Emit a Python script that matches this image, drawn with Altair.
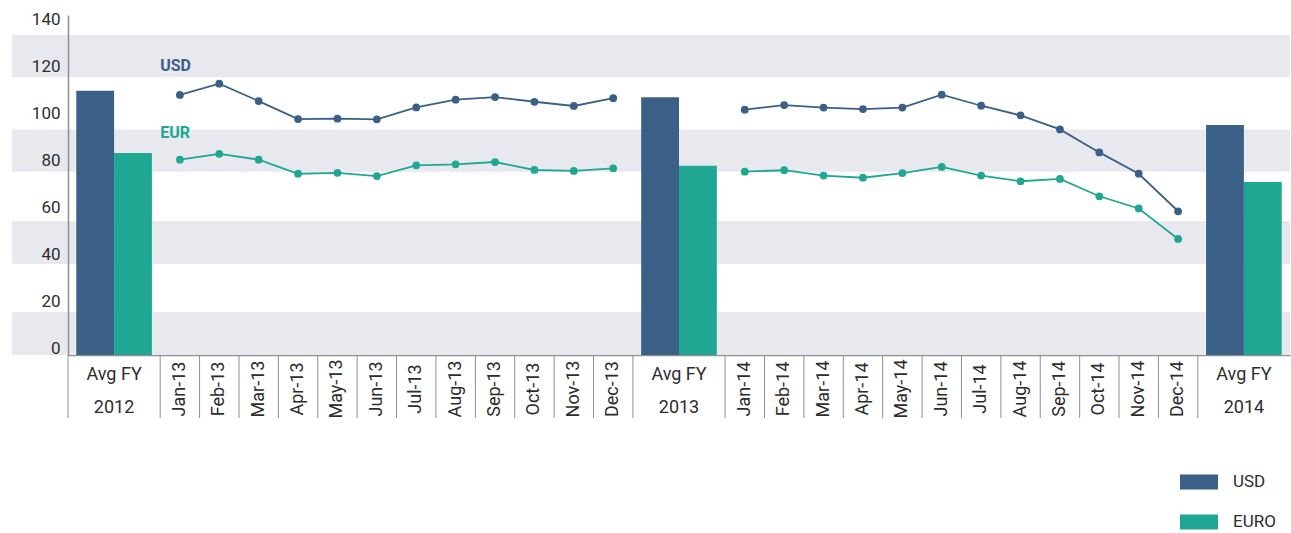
import altair as alt
import pandas as pd

# ---------------- data ----------------
months_2013 = ["Jan-13", "Feb-13", "Mar-13", "Apr-13", "May-13", "Jun-13",
               "Jul-13", "Aug-13", "Sep-13", "Oct-13", "Nov-13", "Dec-13"]
months_2014 = ["Jan-14", "Feb-14", "Mar-14", "Apr-14", "May-14", "Jun-14",
               "Jul-14", "Aug-14", "Sep-14", "Oct-14", "Nov-14", "Dec-14"]
avg_years = ["2012", "2013", "2014"]
avg_usd = [112.7, 109.9, 98.1]
avg_eur = [86.1, 80.7, 73.8]
usd_2013 = [110.9, 115.7, 108.3, 100.6, 100.8, 100.5, 105.6, 108.9, 110.0, 108.0, 106.2, 109.5]
eur_2013 = [83.3, 85.8, 83.3, 77.3, 77.7, 76.3, 80.9, 81.3, 82.3, 78.9, 78.5, 79.6]
usd_2014 = [104.6, 106.6, 105.5, 104.9, 105.5, 111.0, 106.3, 102.2, 96.2, 86.4, 77.3, 61.3]
eur_2014 = [78.2, 78.8, 76.5, 75.6, 77.6, 80.2, 76.5, 74.1, 75.1, 67.7, 62.5, 49.5]
y_ticks = [0, 20, 40, 60, 80, 100, 120, 140]
band_lo = [0, 38.8, 78.2, 118.4]
band_hi = [18.3, 57.1, 96.2, 136.5]
currencies = ["USD", "EURO"]

# ---------------- style ----------------
FONT = "Roboto"
C_USD = "#3a6087"
C_EUR = "#20a794"
C_BAND = "#e8e9ee"
C_AXIS = "#8f8f8f"
C_TEXT = "#2d2d2d"
AVG_W = 2.34      # width of an "Avg FY" column, in month-column units
BAR_PAD = 0.21
BAR_W = 0.96

W, H = 1222, 340

# ---------------- build tables ----------------
cols = [("avg", 0)] + [("m13", i) for i in range(12)] + [("avg", 1)] + \
       [("m14", i) for i in range(12)] + [("avg", 2)]

bars, pts, seps, mlabels, alabels = [], [], [], [], []
pos = 0.0
for kind, i in cols:
    w = AVG_W if kind == "avg" else 1.0
    seps.append({"x": pos})
    c = pos + w / 2
    if kind == "avg":
        bars.append({"x": pos + BAR_PAD, "x2": pos + BAR_PAD + BAR_W, "v": avg_usd[i], "cur": "USD"})
        bars.append({"x": pos + BAR_PAD + BAR_W, "x2": pos + BAR_PAD + 2 * BAR_W, "v": avg_eur[i], "cur": "EURO"})
        alabels.append({"x": c, "l1": "Avg FY", "l2": avg_years[i]})
    else:
        if kind == "m13":
            mlabels.append({"x": c, "l": months_2013[i]})
            pts.append({"x": c, "v": usd_2013[i], "cur": "USD", "seg": "USD13"})
            pts.append({"x": c, "v": eur_2013[i], "cur": "EURO", "seg": "EUR13"})
        else:
            mlabels.append({"x": c, "l": months_2014[i]})
            pts.append({"x": c, "v": usd_2014[i], "cur": "USD", "seg": "USD14"})
            pts.append({"x": c, "v": eur_2014[i], "cur": "EURO", "seg": "EUR14"})
    pos += w
total = pos

bars_df = pd.DataFrame(bars)
pts_df = pd.DataFrame(pts)
seps_df = pd.DataFrame(seps)
ml_df = pd.DataFrame(mlabels)
al_df = pd.DataFrame(alabels)
bands_df = pd.DataFrame({"lo": band_lo, "hi": band_hi})
series_lab = pd.DataFrame({"x": [AVG_W, AVG_W], "v": [123.2, 94.5], "t": ["USD", "EUR"],
                           "cur": ["USD", "EURO"]})

xscale = alt.Scale(domain=[0, total], nice=False, zero=False)
yscale = alt.Scale(domain=[0, 145], nice=False, zero=True)
cscale = alt.Scale(domain=currencies, range=[C_USD, C_EUR])

xaxis = alt.Axis(labels=False, ticks=False, grid=False, title=None,
                 domainColor=C_AXIS, domainWidth=1.5)
yaxis = alt.Axis(values=y_ticks, labelOffset=-7, ticks=False, tickSize=0, grid=False,
                 title=None, domainColor=C_AXIS, domainWidth=1.5, labelFont=FONT,
                 labelFontSize=17, labelColor=C_TEXT, labelPadding=8, zindex=1)

bands = alt.Chart(bands_df).mark_rect(color=C_BAND).encode(
    x=alt.value(-56), x2=alt.value(W),
    y=alt.Y("lo:Q", scale=yscale, axis=yaxis), y2="hi:Q")

seplines = alt.Chart(seps_df).mark_rule(color=C_AXIS, strokeWidth=1).encode(
    x=alt.X("x:Q", scale=xscale, axis=xaxis), y=alt.value(H), y2=alt.value(H + 63))

barlayer = alt.Chart(bars_df).mark_rect().encode(
    x=alt.X("x:Q", scale=xscale, axis=xaxis), x2="x2:Q",
    y=alt.Y("v:Q", scale=yscale, axis=yaxis), y2=alt.datum(0),
    color=alt.Color("cur:N", scale=cscale, legend=alt.Legend(
        orient="none", legendX=1112, legendY=448, title=None,
        symbolType="M-1,-0.395H1V0.395H-1Z", symbolSize=1444, symbolStrokeWidth=0,
        labelFont=FONT, labelFontSize=17, labelColor=C_TEXT, labelOffset=15,
        rowPadding=13, padding=0)))

lines = alt.Chart(pts_df).mark_line(strokeWidth=1.8).encode(
    x=alt.X("x:Q", scale=xscale, axis=xaxis),
    y=alt.Y("v:Q", scale=yscale, axis=yaxis),
    detail="seg:N",
    color=alt.Color("cur:N", scale=cscale, legend=None))

points = alt.Chart(pts_df).mark_circle(size=60, opacity=1).encode(
    x=alt.X("x:Q", scale=xscale, axis=xaxis),
    y=alt.Y("v:Q", scale=yscale, axis=yaxis),
    color=alt.Color("cur:N", scale=cscale, legend=None))

serlab = alt.Chart(series_lab).mark_text(font=FONT, fontSize=16, fontWeight="bold",
                                         align="left", baseline="middle").encode(
    x=alt.X("x:Q", scale=xscale, axis=xaxis),
    y=alt.Y("v:Q", scale=yscale, axis=yaxis),
    text="t:N",
    color=alt.Color("cur:N", scale=cscale, legend=None))

mlab = alt.Chart(ml_df).mark_text(font=FONT, fontSize=18, angle=270, align="center",
                                  baseline="middle", color=C_TEXT).encode(
    x=alt.X("x:Q", scale=xscale, axis=xaxis), y=alt.value(H + 34), text="l:N")

alab1 = alt.Chart(al_df).mark_text(font=FONT, fontSize=18, align="center",
                                   baseline="middle", color=C_TEXT).encode(
    x=alt.X("x:Q", scale=xscale, axis=xaxis), y=alt.value(H + 20), text="l1:N")
alab2 = alt.Chart(al_df).mark_text(font=FONT, fontSize=18, align="center",
                                   baseline="middle", color=C_TEXT).encode(
    x=alt.X("x:Q", scale=xscale, axis=xaxis), y=alt.value(H + 53), text="l2:N")

chart = alt.layer(bands, seplines, barlayer, lines, points, serlab, mlab, alab1, alab2).properties(
    width=W, height=H,
    autosize=alt.AutoSizeParams(type="none"),
    padding={"left": 68, "top": 15, "right": 1, "bottom": 178},
    background="white",
).configure_view(stroke=None)

chart.save("out.html", embed_options={"renderer": "svg", "actions": False})
